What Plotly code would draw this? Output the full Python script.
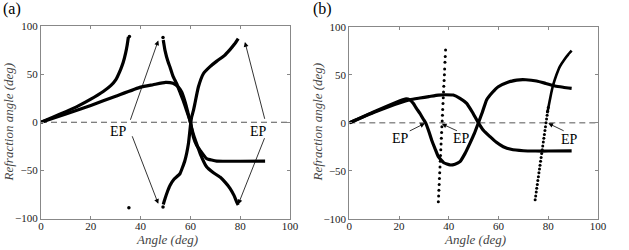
import plotly.graph_objects as go

# ---------------- Panel (a) data ----------------
a1_x = [0, 5, 10, 15, 20, 25, 28, 30, 32, 33, 34, 34.6, 35.1]
a1_y = [0, 5.5, 11, 17, 24, 32, 38, 44, 55, 62, 72, 80, 88.6]

a2_x = [0, 10, 20, 30, 40, 45, 50, 53, 55, 56.5, 58, 59, 60, 61.2, 62.5, 63.9, 66.5, 70.6, 75, 80, 90]
a2_y = [0, 8.5, 17.5, 27, 36.5, 39, 41.5, 40.5, 37, 31.4, 20, 10, 0, -15.4, -24, -29.2, -37.8, -40.3, -40.5, -40.5, -40.3]

a3_x = [49.1, 49.8, 51, 51.8, 53, 54.5, 56, 57.1, 58.5, 59.8, 60.5, 61.5, 62.5, 64, 66.5, 69, 71.9, 74, 75.9, 77.5, 78.8, 79.2]
a3_y = [85.5, 74.7, 63, 57.4, 48, 40, 30, 22.7, 12, 2, -6, -15, -22.3, -33, -46.3, -52, -57, -62.5, -68.7, -76, -84, -86]

a4_x = [49.1, 49.8, 50.8, 51.8, 53.5, 55.8, 57.8, 59.2, 60.1, 60.5, 61.2, 61.8, 63.2, 65.2, 68, 70.6, 73.5, 75.9, 77.8, 79.2]
a4_y = [-85.5, -79.5, -72, -65.7, -59, -53.5, -39.7, -22.4, -1.5, 5.4, 12, 19.3, 36.6, 50.4, 58, 63.5, 69, 75.5, 81.5, 87]

a_dots_x = [35.3, 49.0, 49.0, 35.5]
a_dots_y = [-88.9, 88.0, -88.0, 89.0]

# ---------------- Panel (b) data ----------------
b1_x = [0, 10, 20.4, 24.4, 28.4, 32, 35.8, 38.5, 41.8, 44.5, 47.2, 49.5, 51.9, 54, 56.6, 59, 61.9, 65, 70, 75, 80, 89.4]
b1_y = [0, 11, 21, 24, 25.8, 27.3, 28.9, 29.2, 28.9, 25.5, 20.3, 11, 0, -8, -14.4, -20, -24.8, -27.5, -29, -29.3, -29.3, -29.2]

b2_x = [0, 10, 20.4, 22.4, 24.2, 25.7, 27, 28.4, 29.6, 30.8, 32, 33.1, 34.5, 35.8, 38, 40.5, 42.5, 44.5, 46.5, 48.5,
        50.3, 51.9, 53.5, 55.2, 57.5, 59.9, 63.5, 67.3, 71, 75.3, 79, 82.7, 86, 89.4]
b2_y = [0, 11.5, 23, 24.8, 24.2, 20.3, 15, 9.9, 4.5, -0.5, -9, -17.8, -27, -35.2, -41.5, -43.8, -43, -40.4, -32, -21.3,
        -11, 0, 11, 23.8, 31.5, 37.6, 42, 44.5, 44.8, 43.5, 41, 38.3, 37, 35.9]

b3_x = [35.8, 35.91, 36.02, 36.13, 36.24, 36.35, 36.46, 36.57, 36.68, 36.79, 36.9, 37.01, 37.12, 37.23,
        37.34, 37.45, 37.56, 37.67, 37.78, 37.89, 38.0, 38.12, 38.23, 38.34, 38.46, 38.57, 38.7]
b3_y = [-82, -76, -70, -64, -58, -52, -46, -40, -34, -28, -22, -16, -10, -4,
        2, 8, 14, 20, 26, 32, 38, 44, 50, 56, 63, 69, 75.8]

b4_x = [74.72, 74.94, 75.16, 75.37, 75.59, 75.81, 76.03, 76.25, 76.47, 76.69, 76.91, 77.13, 77.35,
        77.57, 77.79, 78.0, 78.22, 78.44, 78.66, 78.88, 79.1, 79.32, 79.54, 79.76, 80.0]
b4_y = [-80, -76, -72, -68, -64, -60, -56, -52, -48, -44, -40, -36, -32,
        -28, -24, -20, -16, -12, -8, -4, 0, 4, 8, 12, 16]

b5_x = [79.6, 80.5, 81.2, 82, 83.3, 84.7, 86.5, 88, 89.4]
b5_y = [10, 22, 31, 39.7, 50, 58.8, 66, 71, 75]

x_ticks = [0, 20, 40, 60, 80, 100]
y_ticks = [-100, -50, 0, 50, 100]

BLACK = "black"
SERIF = "Liberation Serif"

fig = go.Figure()

def line(x, y, xa, ya, w=3.2):
    fig.add_trace(go.Scatter(x=x, y=y, mode="lines", line=dict(color=BLACK, width=w, shape="spline", smoothing=0.4),
                             xaxis=xa, yaxis=ya, showlegend=False, hoverinfo="skip"))

def dots(x, y, xa, ya, s=3):
    fig.add_trace(go.Scatter(x=x, y=y, mode="markers", marker=dict(color=BLACK, size=s),
                             xaxis=xa, yaxis=ya, showlegend=False, hoverinfo="skip"))

# zero dashed lines
for xa, ya in (("x", "y"), ("x2", "y2")):
    fig.add_trace(go.Scatter(x=[0, 100], y=[0, 0], mode="lines",
                             line=dict(color="#555555", width=1, dash="6px,4px"),
                             xaxis=xa, yaxis=ya, showlegend=False, hoverinfo="skip"))

line(a1_x, a1_y, "x", "y")
line(a2_x, a2_y, "x", "y")
line(a3_x, a3_y, "x", "y")
line(a4_x, a4_y, "x", "y")
dots(a_dots_x, a_dots_y, "x", "y", 3.5)

line(b1_x, b1_y, "x2", "y2")
line(b2_x, b2_y, "x2", "y2")
dots(b3_x, b3_y, "x2", "y2", 3)
dots(b4_x, b4_y, "x2", "y2", 3)
line(b5_x, b5_y, "x2", "y2", 2.6)

axis_common = dict(showgrid=False, zeroline=False, showline=True, linecolor="#888888", linewidth=1,
                   mirror="ticks", ticks="inside", ticklen=3, tickcolor="#888888", automargin=False,
                   tickfont=dict(family=SERIF, size=11, color="#222222"))
xaxis_extra = dict(ticklabelstandoff=-3)

fig.update_layout(
    width=629, height=250,
    margin=dict(l=0, r=0, t=0, b=0, pad=0),
    paper_bgcolor="white", plot_bgcolor="white",
    xaxis=dict(domain=[41 / 629, 290 / 629], range=[0, 100], tickvals=x_ticks, anchor="y", **axis_common, **xaxis_extra),
    yaxis=dict(domain=[1 - 218.5 / 250, 1 - 26 / 250], range=[-100, 100], tickvals=y_ticks, anchor="x", **axis_common),
    xaxis2=dict(domain=[349.3 / 629, 598 / 629], range=[0, 100], tickvals=x_ticks, anchor="y2", **axis_common, **xaxis_extra),
    yaxis2=dict(domain=[1 - 219 / 250, 1 - 26.7 / 250], range=[-100, 100], tickvals=y_ticks, anchor="x2", **axis_common),
)

ann = []
# panel labels
ann.append(dict(text="(a)", x=12 / 629, y=1 - 9 / 250, xref="paper", yref="paper", showarrow=False,
                font=dict(family=SERIF, size=16, color=BLACK), xanchor="center", yanchor="middle"))
ann.append(dict(text="(b)", x=322 / 629, y=1 - 9 / 250, xref="paper", yref="paper", showarrow=False,
                font=dict(family=SERIF, size=16, color=BLACK), xanchor="center", yanchor="middle"))
# axis titles
for cx, ycx in ((166.5, 7.5), (474.6, 316.5)):
    ann.append(dict(text="<i>Angle (deg)</i>", x=cx / 629, y=1 - 239.5 / 250, xref="paper", yref="paper",
                    showarrow=False, font=dict(family=SERIF, size=13, color="#444444"),
                    xanchor="center", yanchor="middle"))
    ann.append(dict(text="<i>Refraction angle (deg)</i>", x=ycx / 629, y=1 - 122 / 250, xref="paper", yref="paper",
                    showarrow=False, textangle=-90, font=dict(family=SERIF, size=13, color="#444444"),
                    xanchor="center", yanchor="middle"))

def ep(x, y, xr, yr):
    ann.append(dict(text="EP", x=x, y=y, xref=xr, yref=yr, showarrow=False,
                    font=dict(family=SERIF, size=14, color=BLACK), xanchor="center", yanchor="middle"))

def arrow(x0, y0, x1, y1, xr, yr):
    ann.append(dict(text="", x=x1, y=y1, ax=x0, ay=y0, xref=xr, yref=yr, axref=xr, ayref=yr,
                    showarrow=True, arrowhead=2, arrowsize=1.2, arrowwidth=0.8, arrowcolor=BLACK))

# panel (a)
ep(31, -10, "x", "y")
ep(87.3, -10, "x", "y")
arrow(35.7, 1, 47.1, 85, "x", "y")
arrow(36.4, -13, 47.1, -84.7, "x", "y")
arrow(90, 2, 81.9, 83.4, "x", "y")
arrow(90, -15, 79.2, -85.4, "x", "y")

# panel (b)
ep(20.4, -16, "x2", "y2")
ep(45.2, -16, "x2", "y2")
ep(88.7, -17, "x2", "y2")
arrow(23.7, -9.2, 30.4, -0.5, "x2", "y2")
arrow(43.9, -9, 37.2, -1, "x2", "y2")
arrow(86.8, -9, 80, -0.5, "x2", "y2")

fig.update_layout(annotations=ann)
fig.write_html("out.html", config={"displayModeBar": False},
               post_script="document.body.style.margin='0';document.body.style.overflow='hidden';")
